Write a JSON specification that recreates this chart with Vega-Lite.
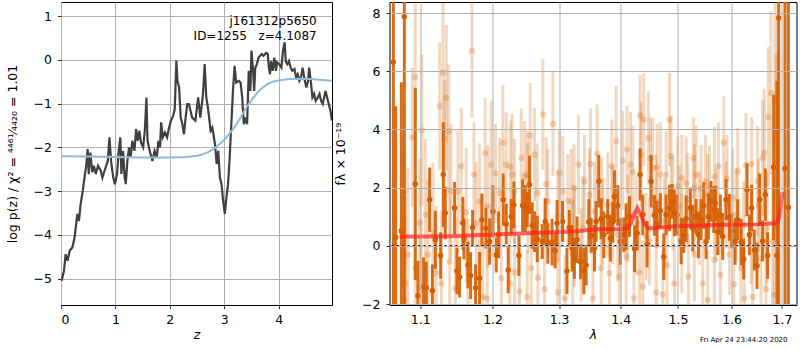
{
  "$schema": "https://vega.github.io/schema/vega-lite/v6.json",
  "padding": {"left": 5, "top": 1, "right": 0, "bottom": 0},
  "background": "white",
  "spacing": 0.5,
  "config": {
    "view": {"stroke": "black", "strokeWidth": 1},
    "axis": {"grid": true, "gridColor": "#b0b0b0", "gridWidth": 1, "domain": false, "tickColor": "black", "tickSize": 3.5, "tickWidth": 0.8, "labelFont": "DejaVu Sans", "labelFontSize": 12.5, "labelColor": "black", "titleFont": "DejaVu Sans", "titleFontSize": 12.5, "titleFontWeight": "normal", "titleColor": "black", "labelPadding": 5, "titlePadding": 2},
    "axisY": {"labelPadding": 6, "titlePadding": 14}
  },
  "datasets": {
    "pz": [
      {"z":0.01,"v":-5.05},{"z":0.055,"v":-4.82},{"z":0.085,"v":-4.44},{"z":0.12,"v":-4.59},{"z":0.16,"v":-4.36},{"z":0.21,"v":-4.28},{"z":0.25,"v":-4.06},{"z":0.30,"v":-3.52},{"z":0.33,"v":-3.68},{"z":0.36,"v":-3.30},{"z":0.40,"v":-2.99},{"z":0.44,"v":-2.61},{"z":0.46,"v":-2.46},{"z":0.49,"v":-2.04},{"z":0.51,"v":-2.61},{"z":0.54,"v":-2.12},{"z":0.575,"v":-2.57},{"z":0.605,"v":-2.42},{"z":0.64,"v":-2.61},{"z":0.68,"v":-2.42},{"z":0.73,"v":-2.53},{"z":0.76,"v":-2.69},{"z":0.81,"v":-2.50},{"z":0.86,"v":-2.31},{"z":0.89,"v":-1.77},{"z":0.92,"v":-2.31},{"z":0.96,"v":-2.69},{"z":0.99,"v":-2.84},{"z":1.03,"v":-2.61},{"z":1.06,"v":-2.08},{"z":1.09,"v":-1.77},{"z":1.11,"v":-2.61},{"z":1.14,"v":-2.08},{"z":1.17,"v":-2.69},{"z":1.19,"v":-2.84},{"z":1.22,"v":-2.31},{"z":1.25,"v":-2.00},{"z":1.28,"v":-2.23},{"z":1.31,"v":-1.85},{"z":1.35,"v":-2.08},{"z":1.38,"v":-1.58},{"z":1.41,"v":-1.85},{"z":1.44,"v":-1.62},{"z":1.47,"v":-1.89},{"z":1.51,"v":-2.00},{"z":1.54,"v":-1.62},{"z":1.57,"v":-0.86},{"z":1.59,"v":-1.85},{"z":1.63,"v":-2.08},{"z":1.68,"v":-2.31},{"z":1.72,"v":-2.08},{"z":1.76,"v":-2.23},{"z":1.79,"v":-1.85},{"z":1.82,"v":-2.00},{"z":1.84,"v":-1.43},{"z":1.87,"v":-1.77},{"z":1.91,"v":-1.66},{"z":1.95,"v":-1.77},{"z":1.98,"v":-1.58},{"z":2.02,"v":-1.39},{"z":2.06,"v":-1.28},{"z":2.09,"v":-1.13},{"z":2.12,"v":-0.02},{"z":2.14,"v":-0.48},{"z":2.17,"v":-0.63},{"z":2.20,"v":-1.32},{"z":2.23,"v":-1.47},{"z":2.26,"v":-1.70},{"z":2.29,"v":-1.32},{"z":2.32,"v":-1.01},{"z":2.35,"v":-1.01},{"z":2.41,"v":-1.32},{"z":2.47,"v":-1.39},{"z":2.52,"v":-0.86},{"z":2.56,"v":-1.32},{"z":2.61,"v":-0.78},{"z":2.64,"v":-0.10},{"z":2.67,"v":-0.86},{"z":2.70,"v":-1.09},{"z":2.75,"v":-1.62},{"z":2.78,"v":-1.55},{"z":2.81,"v":-1.77},{"z":2.83,"v":-1.93},{"z":2.86,"v":-2.38},{"z":2.89,"v":-2.08},{"z":2.92,"v":-2.69},{"z":2.95,"v":-2.84},{"z":2.98,"v":-3.22},{"z":3.01,"v":-3.52},{"z":3.04,"v":-3.14},{"z":3.07,"v":-2.84},{"z":3.10,"v":-2.23},{"z":3.13,"v":-1.47},{"z":3.16,"v":-0.71},{"z":3.19,"v":-0.14},{"z":3.22,"v":-0.52},{"z":3.27,"v":-0.48},{"z":3.30,"v":-0.52},{"z":3.33,"v":-0.86},{"z":3.36,"v":-1.47},{"z":3.39,"v":-1.32},{"z":3.42,"v":-1.47},{"z":3.45,"v":-0.25},{"z":3.48,"v":-0.71},{"z":3.50,"v":0.21},{"z":3.53,"v":-0.25},{"z":3.55,"v":-0.71},{"z":3.57,"v":-0.18},{"z":3.60,"v":-0.10},{"z":3.63,"v":0.05},{"z":3.66,"v":0.09},{"z":3.69,"v":0.13},{"z":3.72,"v":0.09},{"z":3.77,"v":0.16},{"z":3.80,"v":0.13},{"z":3.82,"v":-0.18},{"z":3.84,"v":-0.33},{"z":3.86,"v":-0.03},{"z":3.89,"v":-0.25},{"z":3.92,"v":0.05},{"z":3.95,"v":-0.25},{"z":3.97,"v":-0.06},{"z":4.01,"v":-0.10},{"z":4.05,"v":-0.18},{"z":4.08,"v":0.21},{"z":4.11,"v":0.40},{"z":4.13,"v":-0.03},{"z":4.16,"v":-0.10},{"z":4.19,"v":-0.03},{"z":4.22,"v":-0.18},{"z":4.25,"v":-0.25},{"z":4.29,"v":-0.21},{"z":4.32,"v":-0.40},{"z":4.35,"v":-0.33},{"z":4.38,"v":-0.48},{"z":4.41,"v":-0.40},{"z":4.44,"v":-0.18},{"z":4.48,"v":-0.48},{"z":4.51,"v":-0.63},{"z":4.54,"v":-0.48},{"z":4.56,"v":-0.18},{"z":4.59,"v":-0.48},{"z":4.62,"v":-0.86},{"z":4.65,"v":-0.78},{"z":4.68,"v":-0.94},{"z":4.72,"v":-0.86},{"z":4.75,"v":-0.78},{"z":4.78,"v":-0.94},{"z":4.81,"v":-1.01},{"z":4.86,"v":-0.71},{"z":4.89,"v":-0.86},{"z":4.92,"v":-1.01},{"z":4.95,"v":-1.16},{"z":4.98,"v":-1.39}
    ],
    "pzfit": [
      {"z":0,"v":-2.20},{"z":0.5,"v":-2.21},{"z":1.0,"v":-2.22},{"z":1.5,"v":-2.23},{"z":2.0,"v":-2.23},{"z":2.3,"v":-2.22},{"z":2.5,"v":-2.19},{"z":2.6,"v":-2.16},{"z":2.7,"v":-2.11},{"z":2.8,"v":-2.04},{"z":2.9,"v":-1.94},{"z":3.0,"v":-1.83},{"z":3.1,"v":-1.68},{"z":3.2,"v":-1.52},{"z":3.3,"v":-1.32},{"z":3.4,"v":-1.10},{"z":3.5,"v":-0.92},{"z":3.6,"v":-0.76},{"z":3.7,"v":-0.64},{"z":3.8,"v":-0.55},{"z":3.9,"v":-0.50},{"z":4.0,"v":-0.47},{"z":4.2,"v":-0.44},{"z":4.4,"v":-0.43},{"z":4.6,"v":-0.44},{"z":4.8,"v":-0.46},{"z":4.98,"v":-0.48}
    ],
    "dark": [
      {"l":1.0649,"f":6.32,"e":9},{"l":1.0679,"f":0.3,"e":4.5},{"l":1.0752,"f":0.52,"e":5.1},{"l":1.0791,"f":7.87,"e":10},{"l":1.0934,"f":2.13,"e":3.3},{"l":1.0969,"f":-1.71,"e":1.2},{"l":1.1044,"f":-1.40,"e":1.0},{"l":1.1080,"f":-1.44,"e":0.9},{"l":1.1125,"f":1.59,"e":1.1},{"l":1.1161,"f":-1.54,"e":0.9},{"l":1.1201,"f":0.21,"e":1.0},{"l":1.1273,"f":-0.33,"e":0.8},{"l":1.1309,"f":2.45,"e":1.8},{"l":1.1336,"f":1.13,"e":0.9},{"l":1.1464,"f":1.3,"e":0.9},{"l":1.1496,"f":-0.86,"e":0.8},{"l":1.1533,"f":-1.07,"e":0.7},{"l":1.1579,"f":0.78,"e":0.9},{"l":1.1593,"f":0.24,"e":0.7},{"l":1.1649,"f":-0.66,"e":0.8},{"l":1.1687,"f":-1.02,"e":0.8},{"l":1.1715,"f":0.63,"e":0.6},{"l":1.1757,"f":-1.44,"e":0.8},{"l":1.1814,"f":-1.11,"e":0.9},{"l":1.1847,"f":0.9,"e":0.9},{"l":1.1903,"f":0.61,"e":0.7},{"l":1.1958,"f":0.15,"e":0.8},{"l":1.2005,"f":1.18,"e":0.9},{"l":1.2053,"f":-0.31,"e":0.6},{"l":1.2087,"f":0.38,"e":0.8},{"l":1.2155,"f":1.59,"e":0.9},{"l":1.2199,"f":0.75,"e":0.7},{"l":1.2228,"f":-0.83,"e":0.8},{"l":1.2272,"f":1.01,"e":0.6},{"l":1.2312,"f":1.41,"e":0.8},{"l":1.2386,"f":-0.33,"e":0.7},{"l":1.2441,"f":1.39,"e":0.9},{"l":1.2481,"f":1.28,"e":0.8},{"l":1.2511,"f":1.24,"e":0.6},{"l":1.2546,"f":2.1,"e":1.0},{"l":1.2587,"f":0.7,"e":0.8},{"l":1.2622,"f":0.49,"e":0.7},{"l":1.2663,"f":0.24,"e":0.8},{"l":1.2739,"f":0.15,"e":0.6},{"l":1.2784,"f":0.84,"e":0.8},{"l":1.2825,"f":0.09,"e":0.7},{"l":1.2891,"f":0.13,"e":0.8},{"l":1.2938,"f":-0.17,"e":0.6},{"l":1.2969,"f":0.78,"e":0.8},{"l":1.3054,"f":0.84,"e":0.7},{"l":1.3124,"f":-0.86,"e":0.8},{"l":1.3161,"f":0.63,"e":0.6},{"l":1.3205,"f":-0.08,"e":0.8},{"l":1.3242,"f":-0.43,"e":0.7},{"l":1.3285,"f":0.21,"e":0.8},{"l":1.3339,"f":-0.54,"e":0.6},{"l":1.3393,"f":-0.86,"e":0.8},{"l":1.3431,"f":-0.66,"e":0.7},{"l":1.3474,"f":0.82,"e":0.8},{"l":1.3512,"f":0.36,"e":0.6},{"l":1.3566,"f":-0.08,"e":0.8},{"l":1.3593,"f":0.84,"e":0.7},{"l":1.3637,"f":2.22,"e":0.9},{"l":1.3675,"f":0.93,"e":0.7},{"l":1.3719,"f":0.38,"e":0.8},{"l":1.3785,"f":1.01,"e":0.6},{"l":1.3829,"f":0.26,"e":0.8},{"l":1.3868,"f":0.82,"e":0.7},{"l":1.3896,"f":1.7,"e":0.9},{"l":1.3952,"f":1.39,"e":0.7},{"l":1.3997,"f":0.15,"e":0.8},{"l":1.4053,"f":0.38,"e":0.6},{"l":1.4093,"f":0.67,"e":0.8},{"l":1.4150,"f":1.01,"e":0.7},{"l":1.4236,"f":-0.1,"e":0.8},{"l":1.4281,"f":0.44,"e":0.6},{"l":1.4332,"f":2.45,"e":0.9},{"l":1.4378,"f":1.07,"e":0.7},{"l":1.4453,"f":0.06,"e":0.8},{"l":1.4523,"f":2.22,"e":0.9},{"l":1.4581,"f":1.05,"e":0.7},{"l":1.4628,"f":0.75,"e":0.8},{"l":1.4686,"f":1.21,"e":0.6},{"l":1.4746,"f":-0.37,"e":0.8},{"l":1.4787,"f":1.07,"e":0.7},{"l":1.4847,"f":1.3,"e":0.8},{"l":1.4895,"f":1.53,"e":0.6},{"l":1.4936,"f":1.13,"e":0.8},{"l":1.4984,"f":1.07,"e":0.7},{"l":1.5057,"f":0.17,"e":0.8},{"l":1.5105,"f":0.36,"e":0.6},{"l":1.5148,"f":0.93,"e":0.8},{"l":1.5226,"f":1.3,"e":0.7},{"l":1.5269,"f":0.61,"e":0.8},{"l":1.5330,"f":1.01,"e":0.6},{"l":1.5373,"f":0.38,"e":0.8},{"l":1.5423,"f":0.9,"e":0.7},{"l":1.5472,"f":1.39,"e":0.8},{"l":1.5516,"f":0.15,"e":0.6},{"l":1.5559,"f":1.01,"e":0.8},{"l":1.5609,"f":1.53,"e":0.7},{"l":1.5660,"f":1.24,"e":0.8},{"l":1.5691,"f":1.47,"e":0.6},{"l":1.5736,"f":0.49,"e":0.8},{"l":1.5786,"f":1.07,"e":0.7},{"l":1.5830,"f":0.32,"e":0.8},{"l":1.5893,"f":1.59,"e":0.7},{"l":1.5957,"f":0.98,"e":0.8},{"l":1.6002,"f":0.52,"e":0.6},{"l":1.6067,"f":0.15,"e":0.8},{"l":1.6118,"f":0.9,"e":0.7},{"l":1.6183,"f":0.13,"e":0.8},{"l":1.6234,"f":-0.45,"e":0.7},{"l":1.6300,"f":1.93,"e":0.9},{"l":1.6346,"f":0.38,"e":0.7},{"l":1.6392,"f":1.3,"e":0.8},{"l":1.6444,"f":-0.14,"e":0.7},{"l":1.6497,"f":-0.68,"e":0.8},{"l":1.6550,"f":1.59,"e":0.9},{"l":1.6609,"f":0.17,"e":0.7},{"l":1.6663,"f":1.76,"e":0.9},{"l":1.6710,"f":-0.33,"e":0.8},{"l":1.6831,"f":2.7,"e":2.5},{"l":1.6898,"f":-0.33,"e":6},{"l":1.6932,"f":7.83,"e":10},{"l":1.7062,"f":2.66,"e":8},{"l":1.7131,"f":1.32,"e":10}
    ],
    "light": [
      {"l":1.0934,"f":5.8,"e":2.5},{"l":1.0894,"f":3.73,"e":2.4},{"l":1.0787,"f":1.87,"e":3.0},{"l":1.0770,"f":0.9,"e":2.5},{"l":1.1022,"f":3.97,"e":2.6},{"l":1.0991,"f":0.78,"e":2.2},{"l":1.1304,"f":5.95,"e":2.4},{"l":1.1350,"f":5.09,"e":2.5},{"l":1.1259,"f":4.8,"e":2.2},{"l":1.1327,"f":3.69,"e":2.0},{"l":1.1382,"f":3.94,"e":2.3},{"l":1.1556,"f":2.74,"e":2.0},{"l":1.1706,"f":6.7,"e":2.3},{"l":1.1734,"f":2.45,"e":1.8},{"l":1.1767,"f":0.78,"e":2.1},{"l":1.1893,"f":3.2,"e":1.9},{"l":1.1981,"f":2.79,"e":2.2},{"l":1.2043,"f":2.5,"e":1.7},{"l":1.2150,"f":3.54,"e":2.0},{"l":1.2199,"f":2.79,"e":1.8},{"l":1.2258,"f":2.71,"e":1.6},{"l":1.2287,"f":2.45,"e":2.1},{"l":1.2421,"f":3.02,"e":1.7},{"l":1.2471,"f":2.39,"e":1.9},{"l":1.2511,"f":2.45,"e":1.5},{"l":1.2556,"f":3.8,"e":1.8},{"l":1.2622,"f":3.14,"e":1.6},{"l":1.2749,"f":4.52,"e":1.9},{"l":1.2800,"f":2.13,"e":1.6},{"l":1.2904,"f":4.2,"e":1.8},{"l":1.3006,"f":2.5,"e":1.5},{"l":1.3059,"f":1.87,"e":1.9},{"l":1.3139,"f":1.55,"e":1.6},{"l":1.3193,"f":1.53,"e":1.8},{"l":1.3236,"f":1.99,"e":1.5},{"l":1.3307,"f":2.79,"e":1.7},{"l":1.3404,"f":2.22,"e":1.6},{"l":1.3501,"f":2.82,"e":1.9},{"l":1.3610,"f":3.16,"e":1.7},{"l":1.3686,"f":1.55,"e":1.5},{"l":1.3785,"f":1.41,"e":1.8},{"l":1.3851,"f":2.74,"e":1.6},{"l":1.3924,"f":3.6,"e":1.9},{"l":1.4036,"f":2.93,"e":1.7},{"l":1.4109,"f":3.31,"e":1.5},{"l":1.4167,"f":2.79,"e":1.8},{"l":1.4207,"f":2.54,"e":1.6},{"l":1.4332,"f":4.48,"e":1.4},{"l":1.4395,"f":4.34,"e":1.6},{"l":1.4349,"f":3.14,"e":1.8},{"l":1.4476,"f":3.71,"e":1.6},{"l":1.4511,"f":3.0,"e":1.4},{"l":1.4552,"f":2.68,"e":1.7},{"l":1.4628,"f":2.7,"e":1.5},{"l":1.4686,"f":2.45,"e":1.8},{"l":1.4787,"f":2.45,"e":1.5},{"l":1.4847,"f":4.34,"e":1.6},{"l":1.4877,"f":3.08,"e":1.4},{"l":1.4996,"f":2.05,"e":1.7},{"l":1.5069,"f":2.33,"e":1.5},{"l":1.5148,"f":2.16,"e":1.6},{"l":1.5281,"f":3.02,"e":1.4},{"l":1.5330,"f":2.43,"e":1.7},{"l":1.5423,"f":1.97,"e":1.5},{"l":1.5503,"f":2.22,"e":1.6},{"l":1.5578,"f":2.05,"e":1.4},{"l":1.5672,"f":2.39,"e":1.7},{"l":1.5748,"f":2.74,"e":1.5},{"l":1.5849,"f":3.54,"e":1.6},{"l":1.5912,"f":2.31,"e":1.5},{"l":1.6022,"f":1.64,"e":1.7},{"l":1.6118,"f":2.56,"e":1.5},{"l":1.6280,"f":2.77,"e":1.8},{"l":1.6392,"f":2.82,"e":1.6},{"l":1.6510,"f":2.22,"e":1.9},{"l":1.6609,"f":3.02,"e":2.0},{"l":1.6642,"f":3.2,"e":2.2},{"l":1.6723,"f":4.43,"e":2.4},{"l":1.6777,"f":5.26,"e":2.8},{"l":1.6858,"f":5.03,"e":3.5},{"l":1.6912,"f":3.94,"e":4.0},{"l":1.6878,"f":3.6,"e":3.0},
      {"l":1.0804,"f":-1.29,"e":3.0},{"l":1.0934,"f":-0.77,"e":2.8},{"l":1.1013,"f":-1.46,"e":2.4},{"l":1.1102,"f":-0.31,"e":2.6},{"l":1.1214,"f":-0.94,"e":2.3},{"l":1.1282,"f":-1.29,"e":2.5},{"l":1.1396,"f":-0.54,"e":2.2},{"l":1.1474,"f":-1.46,"e":2.4},{"l":1.1649,"f":-1.17,"e":2.1},{"l":1.1861,"f":-1.75,"e":1.9},{"l":1.1922,"f":-1.8,"e":2.2},{"l":1.2126,"f":-1.11,"e":1.8},{"l":1.2253,"f":-1.29,"e":2.0},{"l":1.2322,"f":-0.91,"e":1.7},{"l":1.2396,"f":-1.57,"e":1.9},{"l":1.2511,"f":-1.75,"e":1.6},{"l":1.2572,"f":-0.77,"e":1.8},{"l":1.2673,"f":-1.09,"e":1.6},{"l":1.2774,"f":-1.48,"e":1.9},{"l":1.2980,"f":-1.6,"e":1.7},{"l":1.3091,"f":-1.8,"e":1.5},{"l":1.3215,"f":-0.31,"e":1.8},{"l":1.3350,"f":-0.31,"e":1.6},{"l":1.3539,"f":-1.8,"e":1.7},{"l":1.3675,"f":-0.77,"e":1.5},{"l":1.3812,"f":-0.94,"e":1.8},{"l":1.3980,"f":-1.06,"e":1.6},{"l":1.4093,"f":-0.37,"e":1.7},{"l":1.4225,"f":-1.8,"e":1.5},{"l":1.4321,"f":-0.91,"e":1.8},{"l":1.4378,"f":-1.4,"e":1.6},{"l":1.4494,"f":0.15,"e":1.5},{"l":1.4611,"f":-1.6,"e":1.7},{"l":1.4728,"f":-1.67,"e":1.5},{"l":1.4805,"f":-0.66,"e":1.6},{"l":1.4936,"f":-1.29,"e":1.4},{"l":1.5069,"f":0.09,"e":1.7},{"l":1.5190,"f":-1.06,"e":1.5},{"l":1.5299,"f":-0.29,"e":1.6},{"l":1.5454,"f":-1.29,"e":1.5},{"l":1.5547,"f":-1.86,"e":1.7},{"l":1.5672,"f":-0.48,"e":1.5},{"l":1.5786,"f":-1.0,"e":1.6},{"l":1.5957,"f":-0.29,"e":1.4},{"l":1.6041,"f":-1.32,"e":1.7},{"l":1.6183,"f":-0.77,"e":1.5},{"l":1.6247,"f":-1.8,"e":1.8},{"l":1.6411,"f":-1.75,"e":1.6},{"l":1.6576,"f":-0.43,"e":1.8},{"l":1.6676,"f":-1.48,"e":2.0},{"l":1.6844,"f":-1.69,"e":2.6},{"l":1.0787,"f":-1.86,"e":3.2},{"l":1.0837,"f":-0.31,"e":3.0},
      {"l":1.1066,"f":1.07,"e":2.6},{"l":1.1170,"f":0.44,"e":2.4},{"l":1.1413,"f":1.87,"e":2.3},{"l":1.1510,"f":1.87,"e":2.1},{"l":1.1626,"f":1.16,"e":2.2},{"l":1.1814,"f":1.53,"e":2.0},{"l":1.1933,"f":1.36,"e":2.1},{"l":1.2102,"f":1.82,"e":1.9},{"l":1.2322,"f":1.87,"e":1.8},{"l":1.2521,"f":1.64,"e":1.9},{"l":1.2663,"f":1.82,"e":1.7},{"l":1.2825,"f":1.53,"e":1.8},{"l":1.2980,"f":1.01,"e":1.6},{"l":1.3242,"f":0.32,"e":1.7},{"l":1.3377,"f":0.61,"e":1.8},{"l":1.3485,"f":1.76,"e":1.6},{"l":1.3566,"f":1.18,"e":1.7},{"l":1.3703,"f":0.84,"e":1.5},{"l":1.3868,"f":1.07,"e":1.7},{"l":1.3952,"f":0.38,"e":1.6},{"l":1.4121,"f":0.95,"e":1.5},{"l":1.4264,"f":0.72,"e":1.7},{"l":1.4435,"f":0.32,"e":1.5},{"l":1.4611,"f":1.53,"e":1.6},{"l":1.4757,"f":0.84,"e":1.5},{"l":1.4907,"f":1.47,"e":1.6},{"l":1.5026,"f":1.36,"e":1.4},{"l":1.5178,"f":1.59,"e":1.6},{"l":1.5299,"f":1.99,"e":1.5},{"l":1.5392,"f":0.95,"e":1.6},{"l":1.5547,"f":1.76,"e":1.4},{"l":1.5704,"f":1.07,"e":1.6},{"l":1.5893,"f":1.41,"e":1.5},{"l":1.6086,"f":1.07,"e":1.6},{"l":1.6234,"f":0.72,"e":1.5},{"l":1.6379,"f":0.38,"e":1.7},{"l":1.6523,"f":1.39,"e":1.6},{"l":1.6696,"f":0.61,"e":1.9},{"l":1.6811,"f":0.15,"e":2.4}
    ],
    "model": [
      {"l":1.0731,"f":0.32},{"l":1.1102,"f":0.32},{"l":1.1504,"f":0.34},{"l":1.2077,"f":0.40},{"l":1.2826,"f":0.46},{"l":1.3297,"f":0.50},{"l":1.3458,"f":0.55},{"l":1.3621,"f":0.57},{"l":1.4087,"f":0.58},{"l":1.4172,"f":0.75},{"l":1.4223,"f":1.05},{"l":1.4284,"f":1.30},{"l":1.4344,"f":1.05},{"l":1.4413,"f":0.75},{"l":1.4483,"f":0.60},{"l":1.4639,"f":0.62},{"l":1.4995,"f":0.68},{"l":1.5734,"f":0.72},{"l":1.6509,"f":0.74},{"l":1.6870,"f":0.78},{"l":1.6931,"f":0.9},{"l":1.6971,"f":1.25},{"l":1.7012,"f":1.85}
    ]
  },
  "hconcat": [
    {
      "width": 271,
      "height": 303,
      "layer": [
        {
          "data": {"name": "pz"},
          "mark": {"type": "line", "color": "#404040", "strokeWidth": 2.2, "clip": true},
          "encoding": {
            "x": {"field": "z", "type": "quantitative", "scale": {"domain": [0, 4.98], "nice": false, "zero": false}, "axis": {"values": [0, 1, 2, 3, 4], "title": "z", "titleFontStyle": "italic"}},
            "y": {"field": "v", "type": "quantitative", "scale": {"domain": [-5.6, 1.32], "nice": false, "zero": false}, "axis": {"values": [-5, -4, -3, -2, -1, 0, 1], "title": "log p(z) / χ² = ⁴⁴⁶¹⁄₄₄₂₀ = 1.01"}}
          }
        },
        {
          "data": {"name": "pzfit"},
          "mark": {"type": "line", "color": "#8fbbd9", "strokeWidth": 2, "clip": true},
          "encoding": {
            "x": {"field": "z", "type": "quantitative", "axis": {"title": "z"}},
            "y": {"field": "v", "type": "quantitative", "axis": {"title": "log p(z) / χ² = ⁴⁴⁶¹⁄₄₄₂₀ = 1.01"}}
          }
        },
        {
          "data": {"values": [{}]},
          "mark": {"type": "text", "align": "right", "baseline": "alphabetic", "font": "DejaVu Sans", "fontSize": 12, "lineHeight": 15, "color": "black", "text": ["j161312p5650", "ID=1255\u00a0\u00a0\u00a0z=4.1087"]},
          "encoding": {"x": {"datum": 4.70}, "y": {"datum": 0.80}}
        }
      ]
    },
    {
      "width": 407,
      "height": 303,
      "title": {"text": "Fri Apr 24 23:44:20 2020", "orient": "bottom", "anchor": "end", "font": "DejaVu Sans", "fontSize": 7, "fontWeight": "normal", "color": "black", "offset": -5, "dx": -10},
      "layer": [
        {
          "data": {"name": "light"},
          "mark": {"type": "errorbar", "color": "#d55e00", "opacity": 0.25, "thickness": 3, "clip": true},
          "encoding": {
            "x": {"field": "l", "type": "quantitative", "scale": {"type": "log", "domain": [1.06, 1.73], "nice": false, "zero": false}, "axis": {"values": [1.1, 1.2, 1.3, 1.4, 1.5, 1.6, 1.7], "format": ".1f", "title": "λ", "titleFontStyle": "italic", "zindex": 1}},
            "y": {"field": "f", "type": "quantitative", "scale": {"domain": [-2.03, 8.38], "nice": false, "zero": false}, "axis": {"values": [-2, 0, 2, 4, 6, 8], "title": "fλ × 10⁻¹⁹", "zindex": 1}},
            "yError": {"field": "e"}
          }
        },
        {
          "data": {"name": "light"},
          "mark": {"type": "circle", "color": "#d55e00", "opacity": 0.25, "size": 40, "clip": true},
          "encoding": {
            "x": {"field": "l", "type": "quantitative", "axis": {"title": "λ"}},
            "y": {"field": "f", "type": "quantitative", "axis": {"title": "fλ × 10⁻¹⁹"}}
          }
        },
        {
          "data": {"name": "dark"},
          "mark": {"type": "errorbar", "color": "#d55e00", "opacity": 0.9, "thickness": 3, "clip": true},
          "encoding": {
            "x": {"field": "l", "type": "quantitative", "axis": {"title": "λ"}},
            "y": {"field": "f", "type": "quantitative", "axis": {"title": "fλ × 10⁻¹⁹"}},
            "yError": {"field": "e"}
          }
        },
        {
          "data": {"name": "dark"},
          "mark": {"type": "circle", "color": "#d55e00", "opacity": 1, "size": 30, "clip": true},
          "encoding": {
            "x": {"field": "l", "type": "quantitative", "axis": {"title": "λ"}},
            "y": {"field": "f", "type": "quantitative", "axis": {"title": "fλ × 10⁻¹⁹"}}
          }
        },
        {
          "data": {"name": "model"},
          "mark": {"type": "line", "color": "#ff2020", "opacity": 0.7, "strokeWidth": 4, "clip": true},
          "encoding": {
            "x": {"field": "l", "type": "quantitative", "axis": {"title": "λ"}},
            "y": {"field": "f", "type": "quantitative", "axis": {"title": "fλ × 10⁻¹⁹"}}
          }
        },
        {
          "data": {"values": [{}]},
          "mark": {"type": "rule", "color": "#111111", "strokeWidth": 2, "strokeDash": [2, 3.3]},
          "encoding": {"y": {"datum": 0}}
        }
      ]
    }
  ]
}
